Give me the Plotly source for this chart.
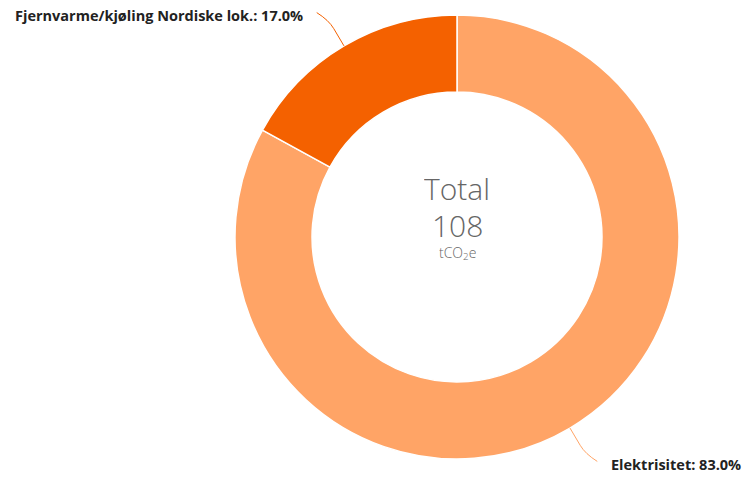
import math
import plotly.graph_objects as go

# Emission shares by energy source (percent of total)
labels = ["Fjernvarme/kjøling Nordiske lok.", "Elektrisitet"]
values = [17.0, 83.0]
colors = ["#f46100", "#ffa466"]
total_value = 108
total_unit = "tCO<sub>2</sub>e"

W, H = 742, 477
CX, CY, R = 457, 237, 222  # donut centre and outer radius in pixels
HOLE = 0.653

def px(x, y):
    return x / W, 1 - y / H

fig = go.Figure()
# Plotly lays slices out clockwise for "clockwise"; list reversed so the
# small slice sits just left of 12 o'clock
fig.add_trace(go.Pie(
    labels=labels[::-1],
    values=values[::-1],
    hole=HOLE,
    sort=False,
    direction="clockwise",
    rotation=0,
    marker=dict(colors=colors[::-1], line=dict(color="white", width=1.5)),
    textinfo="none",
    hoverinfo="skip",
    showlegend=False,
    domain=dict(x=[(CX - R) / W, (CX + R) / W],
                y=[1 - (CY + R) / H, 1 - (CY - R) / H]),
))

# Connector lines and outside labels, placed from each slice's mid angle
# (angles measured counterclockwise from 12 o'clock)
total = sum(values)
cum = 0.0
shapes, annotations = [], []
for lab, val, col in zip(labels, values, colors):
    mid = (cum + val / 2) / total
    cum += val
    th = 2 * math.pi * mid
    dx, dy = -math.sin(th), -math.cos(th)
    p0 = (CX + R * dx, CY + R * dy)
    pa = (CX + (R + 20) * dx, CY + (R + 20) * dy)
    p1 = (CX + (R + 30) * dx, CY + (R + 30) * dy)
    side = 1 if dx > 0 else -1
    vy = 1 if dy > 0 else -1
    end = (p1[0] + side * 12, p1[1] + vy * 7.5)
    pts = [px(*p) for p in (p0, pa, p1, end)]
    path = "M {0[0]},{0[1]} L {1[0]},{1[1]} Q {2[0]},{2[1]} {3[0]},{3[1]}".format(*pts)
    shapes.append(dict(type="path", xref="paper", yref="paper", path=path,
                       line=dict(color=col, width=1)))
    tx, ty = px(end[0] + side * 12, end[1] + 3)
    annotations.append(dict(
        x=tx, y=ty, xref="paper", yref="paper", showarrow=False,
        xanchor="left" if side > 0 else "right", yanchor="middle",
        text=f"<b>{lab}: {val:.1f}%</b>",
        font=dict(family="Open Sans", size=14.5, color="#222"),
    ))

# Centre total
cx_p, _ = px(CX, 0)
for txt, y, size, box in [("Total", 188, 30, 34), (str(total_value), 225, 30, 34),
                          (total_unit, 253, 14, 20)]:
    annotations.append(dict(
        x=cx_p, y=1 - y / H, xref="paper", yref="paper", showarrow=False,
        xanchor="center", yanchor="middle", text=txt, height=box,
        font=dict(family="Open Sans", size=size, color="#666", weight=300),
    ))

fig.update_layout(
    width=W, height=H,
    margin=dict(l=0, r=0, t=0, b=0),
    paper_bgcolor="white", plot_bgcolor="white",
    shapes=shapes, annotations=annotations,
)
fig.write_html("out.html")
